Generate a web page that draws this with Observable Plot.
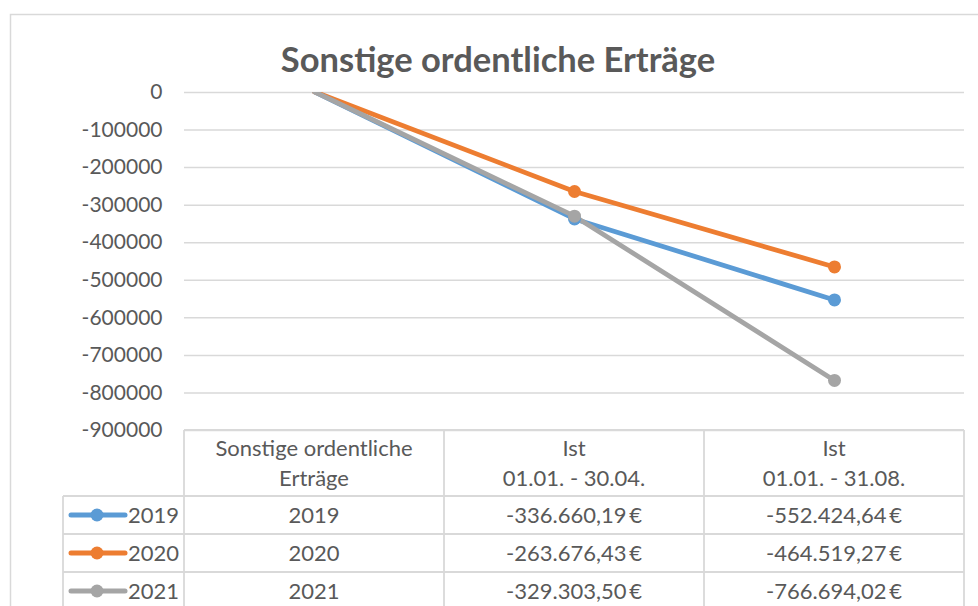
<!DOCTYPE html>
<html><head><meta charset="utf-8">
<script src="https://cdn.jsdelivr.net/npm/d3@7"></script>
<script src="https://cdn.jsdelivr.net/npm/@observablehq/plot@0.6"></script>
<style>body{margin:0;background:#fff;} svg{display:block}</style>
</head><body><div id="chart"></div>
<script>
const title = "Sonstige ordentliche Erträge";
const categories = ["Sonstige ordentliche Erträge", "Ist 01.01. - 30.04.", "Ist 01.01. - 31.08."];
const headerLines = [["Sonstige ordentliche", "Erträge"], ["Ist", "01.01. - 30.04."], ["Ist", "01.01. - 31.08."]];
const years = ["2019", "2020", "2021"];
const values2019 = [2019, -336660.19, -552424.64];
const values2020 = [2020, -263676.43, -464519.27];
const values2021 = [2021, -329303.50, -766694.02];
const colors = ["#5B9BD5", "#ED7D31", "#A5A5A5"];
const yTicks = d3.range(-900000, 1, 100000);

const seriesValues = [values2019, values2020, values2021];
const data = years.flatMap((yr, i) => categories.map((c, j) => ({year: yr, category: c, value: seriesValues[i][j]})));

const FONT = "Lato, 'Open Sans', sans-serif";
const TEXT = "#595959";
const GRID = "#d9d9d9";
const TABLE_FS = 22;

const locale = d3.formatLocale({decimal: ",", thousands: ".", grouping: [3], currency: ["", " €"], minus: "-"});
const fmtMoney = locale.format(",.2f");
const cellText = (v, j) => j === 0 ? String(v) : fmtMoney(v) + "\u2009€";

const W = 978, H = 606;
const yMax = 0, yMin = -900000;
const plot = Plot.plot({
  width: W, height: H,
  marginLeft: 184, marginRight: 14, marginTop: 92, marginBottom: 176,
  style: {fontFamily: FONT, fontSize: "21px", color: TEXT, background: "#fff"},
  x: {type: "point", domain: categories, padding: 0.5, axis: null},
  y: {domain: [yMin, yMax], axis: null},
  color: {domain: years, range: colors},
  marks: [
    Plot.ruleY(yTicks, {stroke: GRID, strokeWidth: 1.5}),
    Plot.axisY({ticks: yTicks, tickSize: 0, tickPadding: 22, tickFormat: d => String(d), fontSize: 21, color: TEXT, label: null}),
    Plot.line(data, {x: "category", y: "value", z: "year", stroke: "year", strokeWidth: 4.8, strokeLinejoin: "round", clip: true}),
    // like the source chart, markers outside the axis range are not drawn
    Plot.dot(data, {filter: d => d.value <= yMax && d.value >= yMin, x: "category", y: "value", fill: "year", r: 6.5, stroke: null})
  ]
});
document.getElementById("chart").appendChild(plot);

// Decorations: chart frame, title, data table
const svg = d3.select(plot);
const xs = plot.scale("x"), ys = plot.scale("y");
const cx = categories.map(c => xs.apply(c));
const step = cx[1] - cx[0];
const tLeft = cx[0] - step / 2, tRight = cx[cx.length - 1] + step / 2;
const tTop = ys.apply(yMin);
const headerH = 66, rowH = 38, legendW = 121;
const lLeft = tLeft - legendW;

const g = svg.append("g").attr("font-family", FONT).attr("fill", TEXT).attr("text-anchor", "middle");

// outer chart frame
g.append("path").attr("d", `M10.5,${H} V14.5 H${W}`).attr("fill", "none").attr("stroke", GRID).attr("stroke-width", 1.5);

// title
g.append("text").attr("x", (10 + W + 8) / 2).attr("y", 60).attr("dy", "0.35em")
  .attr("font-size", 34.5).attr("font-weight", "bold").text(title);

// table lines
const lines = g.append("g").attr("stroke", GRID).attr("stroke-width", 1.8).attr("fill", "none");
const rowTops = years.map((_, i) => tTop + headerH + i * rowH);
lines.append("line").attr("x1", tLeft).attr("x2", tRight).attr("y1", tTop).attr("y2", tTop);
rowTops.forEach(y => lines.append("line").attr("x1", lLeft).attr("x2", tRight).attr("y1", y).attr("y2", y));
[...cx.map(c => c - step / 2), tRight].forEach(x => lines.append("line").attr("x1", x).attr("x2", x).attr("y1", tTop).attr("y2", H));
lines.append("line").attr("x1", lLeft).attr("x2", lLeft).attr("y1", rowTops[0]).attr("y2", H);

// header text
headerLines.forEach((ls, j) => {
  ls.forEach((t, k) => {
    g.append("text").attr("x", cx[j]).attr("y", tTop + 18 + k * 30).attr("dy", "0.35em")
      .attr("font-size", TABLE_FS).text(t);
  });
});

// rows
years.forEach((yr, i) => {
  const yc = rowTops[i] + rowH / 2;
  g.append("line").attr("x1", lLeft + 8).attr("x2", lLeft + 62).attr("y1", yc).attr("y2", yc)
    .attr("stroke", colors[i]).attr("stroke-width", 5).attr("stroke-linecap", "round");
  g.append("circle").attr("cx", lLeft + 34).attr("cy", yc).attr("r", 6.5).attr("fill", colors[i]);
  g.append("text").attr("x", lLeft + 65).attr("y", yc).attr("dy", "0.35em").attr("text-anchor", "start")
    .attr("font-size", TABLE_FS).text(yr);
  seriesValues[i].forEach((v, j) => {
    g.append("text").attr("x", cx[j]).attr("y", yc).attr("dy", "0.35em")
      .attr("font-size", TABLE_FS).text(cellText(v, j));
  });
});
</script></body></html>
